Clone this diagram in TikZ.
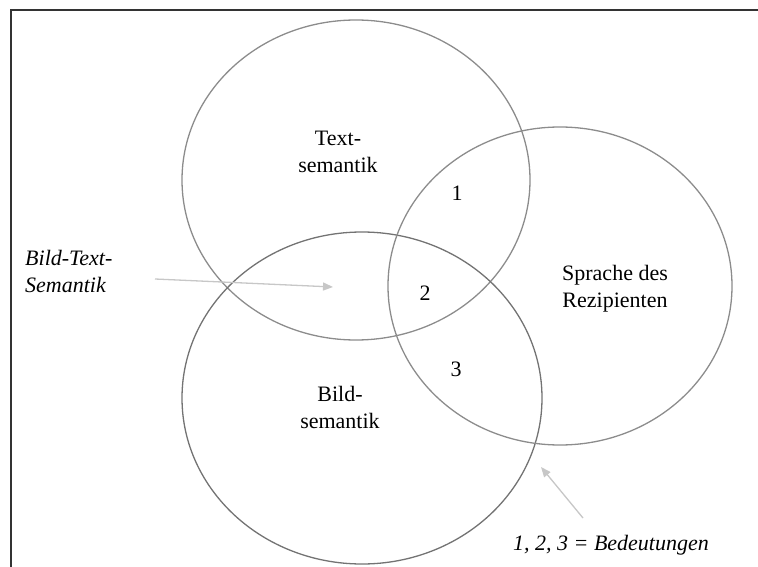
\documentclass[tikz,border=0pt]{standalone}
\usepackage{fontspec}
\setmainfont{Liberation Serif}
\usetikzlibrary{shapes,arrows.meta}

\tikzset{
	kreis/.style={draw=black!45,line width=1.3pt},
	zeiger/.style={draw=black!22,line width=1.3pt,-{Triangle[length=10pt,width=8pt]}},
	schrift/.style={font=\fontsize{22}{27}\selectfont,align=center,inner sep=0pt},
}

\begin{document}
\begin{tikzpicture}[x=1pt,y=-1pt]
	\useasboundingbox (0,0) rectangle (758,567);
	\draw[line width=2.2pt,black!80] (11,600) -- (11,10) -- (780,10);
	% die drei Kreise
	\draw[kreis] (356,180) ellipse (174pt and 160pt);
	\draw[kreis,draw=black!55] (362,398) ellipse (180pt and 166pt);
	\draw[kreis] (560,286) ellipse (172pt and 159pt);
	\node[schrift] (textsem) at (338,152) {Text-\\semantik};
	\node[schrift] (bildsem) at (340,407) {Bild-\\semantik};
	\node[schrift] (sprache) at (615,289) {Sprache des\\Rezipienten};
	\node[schrift] (eins) at (457,193) {1};
	\node[schrift] (zwei) at (425,293) {2};
	\node[schrift] (drei) at (456,369) {3};
	\node[schrift,align=left,anchor=west,font=\fontsize{22}{27}\selectfont\itshape] (btsem) at (25,271) {Bild-Text-\\Semantik};
	\node[schrift,font=\fontsize{22}{27}\selectfont\itshape] (bedeut) at (611,545) {1, 2, 3 = Bedeutungen};
	% Pfeile
	\coordinate (start1) at (155,279);
	\coordinate (ziel1) at (333,287);
	\coordinate (start2) at (583,518);
	\coordinate (ziel2) at (541,467);
	\draw[zeiger] (start1) -- (ziel1);
	\draw[zeiger] (start2) -- (ziel2);
	%\draw[zeiger] (bedeut) -- (sprache);
\end{tikzpicture}
\end{document}
